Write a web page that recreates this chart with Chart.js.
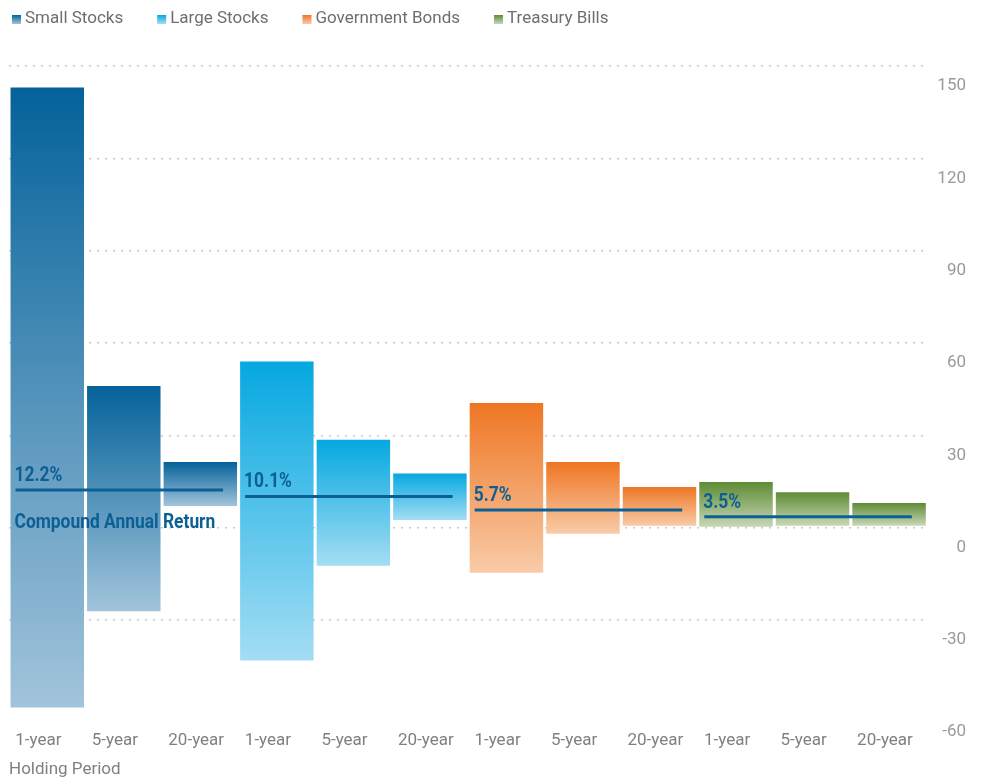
<!DOCTYPE html>
<html lang="en">

<head>
    <meta charset="UTF-8">
    <title>Holding Period Returns</title>

    <!-- Chart.js -->
    <script src="https://cdn.jsdelivr.net/npm/chart.js"></script>

    <style>
        html, body {
            margin: 0;
            padding: 0;
            background: #ffffff;
        }

        /* fixed size to match the reference */
        #chart-container {
            width: 982px;
            height: 784px;
        }
    </style>
</head>

<body>
    <div id="chart-container">
        <canvas id="chart" width="982" height="784"></canvas>
    </div>

    <script type="text/javascript">
        // Data
        const assetClasses = ['Small Stocks', 'Large Stocks', 'Government Bonds', 'Treasury Bills'];
        const periods = ['1-year', '5-year', '20-year'];

        // range of annual returns (%) per holding period: 1-year, 5-year, 20-year
        const smallHigh = [143.0, 46.0, 21.3];
        const smallLow = [-58.5, -27.2, 7.0];
        const largeHigh = [54.0, 28.5, 17.6];
        const largeLow = [-43.2, -12.4, 2.5];
        const bondHigh = [40.5, 21.3, 13.2];
        const bondLow = [-14.7, -2.0, 0.6];
        const billHigh = [14.8, 11.5, 8.0];
        const billLow = [0.0, 0.6, 0.6];

        // compound annual return (%)
        const compoundReturn = [12.2, 10.1, 5.7, 3.5];

        const yTicks = [-60, -30, 0, 30, 60, 90, 120, 150];

        // colours: top and bottom of each gradient
        const topColors = ['#04629a', '#05a8e0', '#ee7623', '#5e8b34'];
        const bottomColors = ['#a2c4db', '#a4ddf4', '#f9cba8', '#c7d8b7'];
        const lineColor = '#0c5f95';

        const FONT = "Roboto, 'Liberation Sans', sans-serif";

        const highs = [smallHigh, largeHigh, bondHigh, billHigh];
        const lows = [smallLow, largeLow, bondLow, billLow];

        // 12 categories: 3 holding periods for each asset class
        let labels = [];
        assetClasses.forEach(() => { labels = labels.concat(periods); });

        // vertical gradient from the top of the bar to its bottom
        function barFill(context, k) {
            const chart = context.chart;
            const raw = context.raw;
            if (!chart.chartArea || !raw) return topColors[k];
            const y = chart.scales.y;
            const g = chart.ctx.createLinearGradient(0, y.getPixelForValue(raw[1]), 0, y.getPixelForValue(raw[0]));
            g.addColorStop(0, topColors[k]);
            g.addColorStop(1, bottomColors[k]);
            return g;
        }

        const datasets = assetClasses.map((name, k) => ({
            label: name,
            data: labels.map((_, i) => Math.floor(i / 3) === k ? [lows[k][i % 3], highs[k][i % 3]] : null),
            backgroundColor: (ctx) => barFill(ctx, k),
            borderWidth: 0,
            grouped: false,
            categoryPercentage: 1,
            barPercentage: 0.96
        }));

        // narrow text, the reference uses a condensed face
        function narrowText(ctx, text, x, y, squeeze) {
            ctx.save();
            ctx.translate(x, y);
            ctx.scale(squeeze, 1);
            ctx.fillText(text, 0, 0);
            ctx.restore();
        }

        // compound annual return lines and their labels
        const compoundPlugin = {
            id: 'compound',
            afterDatasetsDraw(chart) {
                const ctx = chart.ctx;
                const y = chart.scales.y;
                ctx.save();
                compoundReturn.forEach((v, k) => {
                    const meta = chart.getDatasetMeta(k);
                    const first = meta.data[k * 3];
                    const last = meta.data[k * 3 + 2];
                    const x0 = first.x - first.width / 2 + 5;
                    const x1 = last.x + last.width / 2 - 14;
                    const py = y.getPixelForValue(v);

                    ctx.strokeStyle = lineColor;
                    ctx.lineWidth = 3;
                    ctx.beginPath();
                    ctx.moveTo(x0, py);
                    ctx.lineTo(x1, py);
                    ctx.stroke();

                    ctx.fillStyle = lineColor;
                    ctx.font = "bold 20px " + FONT;
                    ctx.textAlign = 'left';
                    ctx.textBaseline = 'alphabetic';
                    narrowText(ctx, v.toFixed(1) + '%', x0 - 1, py - 9, 0.87);
                    if (k === 0) {
                        narrowText(ctx, 'Compound Annual Return', x0 - 1, py + 38, 0.87);
                    }
                });
                ctx.restore();
            }
        };

        // legend drawn across the top
        const legendPlugin = {
            id: 'topLegend',
            afterDraw(chart) {
                const ctx = chart.ctx;
                ctx.save();
                ctx.font = "17px " + FONT;
                ctx.textBaseline = 'middle';
                ctx.textAlign = 'left';
                let x = 12;
                chart.data.datasets.forEach((ds, k) => {
                    const g = ctx.createLinearGradient(0, 15, 0, 24);
                    g.addColorStop(0, topColors[k]);
                    g.addColorStop(1, bottomColors[k]);
                    ctx.fillStyle = g;
                    ctx.fillRect(x, 15, 9, 9);
                    ctx.fillStyle = '#6e6e6e';
                    ctx.fillText(ds.label, x + 13, 19);
                    x += 13 + ctx.measureText(ds.label).width + 34;
                });
                ctx.restore();
            }
        };

        const ctx = document.getElementById('chart').getContext('2d');

        const myChart = new Chart(ctx, {
            type: 'bar',
            data: {
                labels: labels,
                datasets: datasets
            },
            options: {
                responsive: false,
                animation: false,
                layout: {
                    padding: { left: 9, right: 16, top: 66, bottom: 4 }
                },
                plugins: {
                    legend: { display: false },
                    tooltip: { enabled: false }
                },
                scales: {
                    x: {
                        grid: { display: false, drawTicks: false },
                        border: { display: false },
                        ticks: {
                            align: 'start',
                            labelOffset: -32,
                            padding: 18,
                            maxRotation: 0,
                            autoSkip: false,
                            color: '#808080',
                            font: { family: FONT, size: 17 }
                        },
                        title: {
                            display: true,
                            text: 'Holding Period',
                            align: 'start',
                            color: '#808080',
                            padding: { top: -9, bottom: 0 },
                            font: { family: FONT, size: 17 }
                        }
                    },
                    y: {
                        position: 'right',
                        min: -60,
                        max: 150,
                        z: 1,
                        afterBuildTicks: (scale) => {
                            scale.ticks = yTicks.map(v => ({ value: v }));
                        },
                        grid: {
                            drawTicks: false,
                            lineWidth: 1.5,
                            color: (c) => c.tick && c.tick.value === -60 ? 'rgba(0,0,0,0)' : 'rgba(150,150,150,0.5)'
                        },
                        border: { display: false, dash: [2, 6] },
                        ticks: {
                            labelOffset: 20,
                            crossAlign: 'far',
                            padding: 5,
                            color: '#999999',
                            font: { family: FONT, size: 17 }
                        }
                    }
                }
            },
            plugins: [compoundPlugin, legendPlugin]
        });
    </script>
</body>

</html>
